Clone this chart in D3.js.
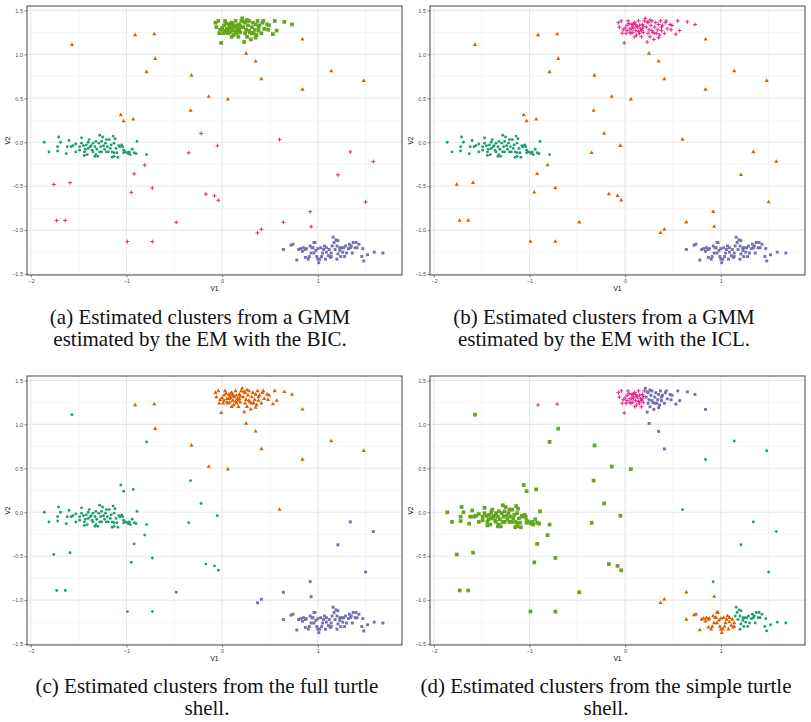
<!DOCTYPE html>
<html>
<head>
<meta charset="utf-8">
<script src="https://cdn.jsdelivr.net/npm/d3@7"></script>
<style>
  body { margin: 0; background: #fff; }
  .tick text { font-family: "Liberation Sans", Arial, sans-serif; font-size: 5.5px; fill: #4d4d4d; }
  .tick line { stroke: #333; stroke-width: 0.6; }
</style>
</head>
<body>
<script>
// ---- data (V1, V2) ----
// left cluster
let clusterA = [
  [-1.86,0.00],[-1.81,-0.11],[-1.71,0.06],[-1.72,-0.05],[-1.72,-0.10],[-1.69,0.00],[-1.63,-0.13],[-1.62,-0.05],
  [-1.60,0.02],[-1.58,-0.05],[-1.56,-0.04],[-1.53,-0.11],[-1.49,-0.09],[-1.47,0.05],[-1.47,-0.01],[-1.45,-0.04],
  [-1.44,-0.15],[-1.43,-0.08],[-1.41,-0.14],[-1.40,0.00],[-1.39,0.03],[-1.38,-0.05],[-1.37,-0.04],[-1.36,-0.09],
  [-1.35,-0.01],[-1.33,-0.05],[-1.32,-0.14],[-1.31,-0.08],[-1.30,-0.16],[-1.29,-0.01],[-1.28,0.08],[-1.27,-0.05],
  [-1.26,0.01],[-1.26,-0.11],[-1.25,0.06],[-1.24,-0.04],[-1.23,-0.08],[-1.22,-0.01],[-1.21,0.03],[-1.20,-0.05],
  [-1.19,-0.11],[-1.18,0.03],[-1.17,-0.07],[-1.15,-0.11],[-1.15,-0.17],[-1.14,0.07],[-1.13,-0.01],[-1.12,0.04],
  [-1.11,-0.07],[-1.10,-0.12],[-1.09,-0.17],[-1.08,-0.04],[-1.07,-0.05],[-1.05,-0.03],[-1.03,-0.09],[-1.03,-0.12],
  [-1.01,-0.11],[-0.99,-0.12],[-0.98,-0.13],[-0.96,-0.14],[-0.94,-0.08],[-0.92,-0.12],[-0.90,-0.13],[-0.89,0.01],
  [-0.79,-0.14],[-1.32,0.01],[-1.42,-0.03],[-1.35,-0.11],[-1.21,-0.11],[-1.16,-0.03],[-1.33,-0.16],[-1.49,-0.05],
  [-1.44,-0.11],[-1.28,-0.11],[-1.13,-0.12],[-1.04,-0.05],[-0.97,-0.11],[-1.53,-0.02],[-1.40,-0.07],[-1.13,-0.16]
];
// top cluster, left part and right part
let clusterB1 = [
  [-0.07,1.36],[-0.06,1.31],[-0.04,1.38],[-0.03,1.24],[-0.02,1.28],[-0.01,1.13],[0.01,1.24],[0.02,1.33],
  [0.03,1.38],[0.05,1.29],[0.06,1.24],[0.07,1.34],[0.08,1.25],[0.09,1.30],[0.10,1.36],[0.11,1.27],
  [0.12,1.32],[0.14,1.38],[0.15,1.24],[0.16,1.29],[0.17,1.20],[0.18,1.34],[0.19,1.25],[0.20,1.38],
  [0.12,1.22],[0.17,1.27],[0.07,1.29],[0.10,1.20],[0.04,1.35],[0.13,1.31],[0.09,1.35],[0.15,1.33],
  [0.05,1.25],[0.18,1.29],[0.02,1.27],[0.11,1.34],[0.19,1.32],[0.00,1.30],[0.14,1.26],[0.08,1.32]
];
let clusterB2 = [
  [0.21,1.41],[0.22,1.31],[0.23,1.14],[0.24,1.24],[0.24,1.36],[0.25,1.28],[0.26,1.20],[0.27,1.33],
  [0.28,1.38],[0.29,1.25],[0.30,1.17],[0.31,1.31],[0.32,1.36],[0.33,1.24],[0.34,1.28],[0.35,1.34],
  [0.36,1.22],[0.37,1.38],[0.38,1.27],[0.39,1.33],[0.41,1.24],[0.42,1.36],[0.43,1.38],[0.44,1.29],
  [0.47,1.34],[0.48,1.28],[0.53,1.23],[0.55,1.38],[0.57,1.27],[0.65,1.37],[0.73,1.34],[0.26,1.39],
  [0.31,1.24],[0.35,1.19],[0.28,1.27],[0.23,1.37],[0.38,1.31],[0.49,1.33]
];
// bottom-right cluster, left part and right part
let clusterC1 = [
  [0.64,-1.22],[0.72,-1.17],[0.74,-1.16],[0.78,-1.34],[0.80,-1.22],[0.82,-1.21],[0.84,-1.24],[0.85,-1.20],
  [0.87,-1.22],[0.88,-1.21],[0.90,-1.33],[0.91,-1.30],[0.93,-1.26],[0.94,-1.20],[0.96,-1.14],[0.97,-1.14],
  [0.98,-1.23],[0.99,-1.30],[1.00,-1.33],[1.00,-1.21],[1.01,-1.37],[1.03,-1.20],[1.04,-1.30],[1.05,-1.26],
  [1.06,-1.22],[1.07,-1.18],[1.08,-1.33],[1.09,-1.25],[1.11,-1.29],[1.12,-1.22],[1.13,-1.31],[1.14,-1.26],
  [0.95,-1.20],[1.02,-1.33],[1.14,-1.30],[0.96,-1.26],[1.09,-1.20],[0.92,-1.18],[0.87,-1.31]
];
let clusterC2 = [
  [1.15,-1.18],[1.16,-1.08],[1.17,-1.14],[1.18,-1.22],[1.19,-1.11],[1.20,-1.18],[1.21,-1.27],[1.21,-1.12],
  [1.23,-1.20],[1.24,-1.30],[1.25,-1.20],[1.26,-1.25],[1.27,-1.20],[1.28,-1.30],[1.29,-1.18],[1.30,-1.26],
  [1.32,-1.21],[1.33,-1.16],[1.34,-1.20],[1.35,-1.18],[1.36,-1.26],[1.37,-1.14],[1.39,-1.20],[1.40,-1.14],
  [1.41,-1.20],[1.43,-1.16],[1.46,-1.30],[1.47,-1.21],[1.48,-1.35],[1.52,-1.28],[1.59,-1.25],[1.68,-1.26],
  [1.23,-1.23],[1.20,-1.33]
];
// scattered points
let noise = [
  [-1.57,1.11],[-0.91,1.22],[-0.71,1.23],[-0.70,0.95],[-0.79,0.80],[-0.32,0.76],[0.25,1.01],[0.35,0.92],
  [0.41,0.72],[0.84,1.17],[1.14,0.81],[1.48,0.70],[0.84,0.60],[-0.14,0.52],[0.06,0.49],[-0.33,0.36],
  [-1.06,0.31],[-1.03,0.24],[-0.93,0.26],[-0.22,0.10],[-0.05,-0.04],[-0.35,-0.12],[0.60,0.03],[1.34,-0.11],
  [1.58,-0.22],[1.21,-0.37],[-0.81,-0.26],[-0.92,-0.36],[-1.76,-0.48],[-1.59,-0.46],[-0.95,-0.57],[-0.73,-0.52],
  [-0.17,-0.59],[-0.08,-0.61],[-0.04,-0.66],[1.50,-0.68],[0.92,-0.79],[-1.73,-0.89],[-1.64,-0.89],[0.64,-0.91],
  [0.93,-0.96],[-0.48,-0.91],[0.41,-0.99],[0.37,-1.03],[-0.99,-1.13],[-0.73,-1.13]
];
// cluster label of every scattered point in each panel
// t = teal circle, o = orange triangle, p = purple square, m = magenta plus, g = green square
let noiseA = ["o","o","o","o","o","o","o","o","o","o","o","o","o","o","o","o","o","o","o","m","m","m","m","m",
          "m","m","m","m","m","m","m","m","m","m","m","m","m","m","m","m","m","m","m","m","m","m"];
let noiseB = ["o","o","o","o","o","o","o","o","o","o","o","o","o","o","o","o","o","o","o","o","o","o","o","o",
          "o","o","o","o","o","o","o","o","o","o","o","o","o","o","o","o","o","o","o","o","o","o"];
let noiseC = ["t","o","o","o","t","o","o","o","o","o","o","o","o","o","o","t","t","t","t","t","t","t","o","p",
          "p","p","t","t","t","t","t","t","t","t","t","p","p","t","t","p","p","t","p","p","t","t"];
let noiseD = ["g","m","m","g","g","g","p","p","p","p","t","t","t","g","g","g","g","g","g","g","g","g","t","t",
          "t","t","g","g","g","g","g","g","g","g","g","t","t","g","g","o","o","g","o","o","g","g"];

let panels = [
  {x: 27,  y: 6,   groups: {A: "t", B1: "g", B2: "g", C1: "p", C2: "p"}, noise: noiseA,
   caption: ["(a) Estimated clusters from a GMM", "estimated by the EM with the BIC."], cx: 200, cy: 324},
  {x: 430, y: 6,   groups: {A: "t", B1: "m", B2: "m", C1: "p", C2: "p"}, noise: noiseB,
   caption: ["(b) Estimated clusters from a GMM", "estimated by the EM with the ICL."], cx: 604, cy: 324},
  {x: 27,  y: 376, groups: {A: "t", B1: "o", B2: "o", C1: "p", C2: "p"}, noise: noiseC,
   caption: ["(c) Estimated clusters from the full turtle", "shell."], cx: 207, cy: 693},
  {x: 430, y: 376, groups: {A: "g", B1: "m", B2: "p", C1: "o", C2: "t"}, noise: noiseD,
   caption: ["(d) Estimated clusters from the simple turtle", "shell."], cx: 606, cy: 693}
];

let xTicks = [-2, -1, 0, 1];
let yTicks = [-1.5, -1, -0.5, 0, 0.5, 1, 1.5];

let colors = {t: "#1b9e77", o: "#d95f02", p: "#7570b3", m: "#e7298a", g: "#66a61e"};

let W = 811, H = 722, pw = 375, ph = 269;

let svg = d3.select("body").append("svg")
    .attr("width", W)
    .attr("height", H);

let groupData = {A: clusterA, B1: clusterB1, B2: clusterB2, C1: clusterC1, C2: clusterC2};

panels.forEach(function(p) {
  let x = d3.scaleLinear().domain([-2.04, 1.88]).range([0, pw]);
  let y = d3.scaleLinear().domain([-1.51, 1.55]).range([ph, 0]);

  let g = svg.append("g").attr("transform", "translate(" + p.x + "," + p.y + ")");

  // minor grid
  let xMinor = [-1.5, -0.5, 0.5, 1.5];
  let yMinor = [-1.25, -0.75, -0.25, 0.25, 0.75, 1.25];
  g.selectAll(".vminor").data(xMinor).enter().append("line")
      .attr("x1", d => x(d)).attr("x2", d => x(d)).attr("y1", 0).attr("y2", ph)
      .attr("stroke", "#f0f0f0").attr("stroke-width", 0.6);
  g.selectAll(".hminor").data(yMinor).enter().append("line")
      .attr("y1", d => y(d)).attr("y2", d => y(d)).attr("x1", 0).attr("x2", pw)
      .attr("stroke", "#f0f0f0").attr("stroke-width", 0.6);
  // major grid
  g.selectAll(".vmajor").data(xTicks).enter().append("line")
      .attr("x1", d => x(d)).attr("x2", d => x(d)).attr("y1", 0).attr("y2", ph)
      .attr("stroke", "#e8e8e8").attr("stroke-width", 1.1);
  g.selectAll(".hmajor").data(yTicks).enter().append("line")
      .attr("y1", d => y(d)).attr("y2", d => y(d)).attr("x1", 0).attr("x2", pw)
      .attr("stroke", "#e8e8e8").attr("stroke-width", 1.1);

  // points
  let pts = [];
  Object.keys(groupData).forEach(function(k) {
    groupData[k].forEach(function(d) { pts.push({v1: d[0], v2: d[1], c: p.groups[k]}); });
  });
  noise.forEach(function(d, i) { pts.push({v1: d[0], v2: d[1], c: p.noise[i]}); });

  let sym = {
    t: d3.symbol().type(d3.symbolCircle).size(6.5)(),
    o: d3.symbol().type(d3.symbolTriangle).size(7.5)(),
    p: d3.symbol().type(d3.symbolSquare).size(8.5)(),
    g: d3.symbol().type(d3.symbolSquare).size(14)()
  };

  g.selectAll(".pt").data(pts).enter().append("path")
      .attr("transform", d => "translate(" + x(d.v1) + "," + y(d.v2) + ")")
      .attr("d", d => d.c === "m" ? "M-2,0H2M0,-2V2" : sym[d.c])
      .attr("fill", d => d.c === "m" ? "none" : colors[d.c])
      .attr("stroke", d => d.c === "m" ? colors.m : "none")
      .attr("stroke-width", 1);

  // border
  g.append("rect").attr("width", pw).attr("height", ph)
      .attr("fill", "none").attr("stroke", "#333").attr("stroke-width", 0.9);

  // axes
  g.append("g").attr("transform", "translate(0," + ph + ")")
      .call(d3.axisBottom(x).tickValues(xTicks).tickSize(2.5).tickPadding(1.5).tickFormat(d3.format("d")))
      .call(a => a.select(".domain").remove());
  g.append("g")
      .call(d3.axisLeft(y).tickValues(yTicks).tickSize(2.5).tickPadding(1.5).tickFormat(d3.format(".1f")))
      .call(a => a.select(".domain").remove());

  g.append("text")
      .attr("x", pw / 2).attr("y", ph + 16)
      .attr("text-anchor", "middle")
      .style("font-family", "Liberation Sans, Arial, sans-serif")
      .style("font-size", "6.5px")
      .text("V1");
  g.append("text")
      .attr("transform", "translate(-17," + (ph / 2) + ") rotate(-90)")
      .attr("text-anchor", "middle")
      .style("font-family", "Liberation Sans, Arial, sans-serif")
      .style("font-size", "6.5px")
      .text("V2");

  // caption
  p.caption.forEach(function(line, i) {
    svg.append("text")
        .attr("x", p.cx)
        .attr("y", p.cy + i * 22)
        .attr("text-anchor", "middle")
        .style("font-family", "Liberation Serif, Times New Roman, serif")
        .style("font-size", "21px")
        .style("fill", "#111")
        .text(line);
  });
});
</script>
</body>
</html>
